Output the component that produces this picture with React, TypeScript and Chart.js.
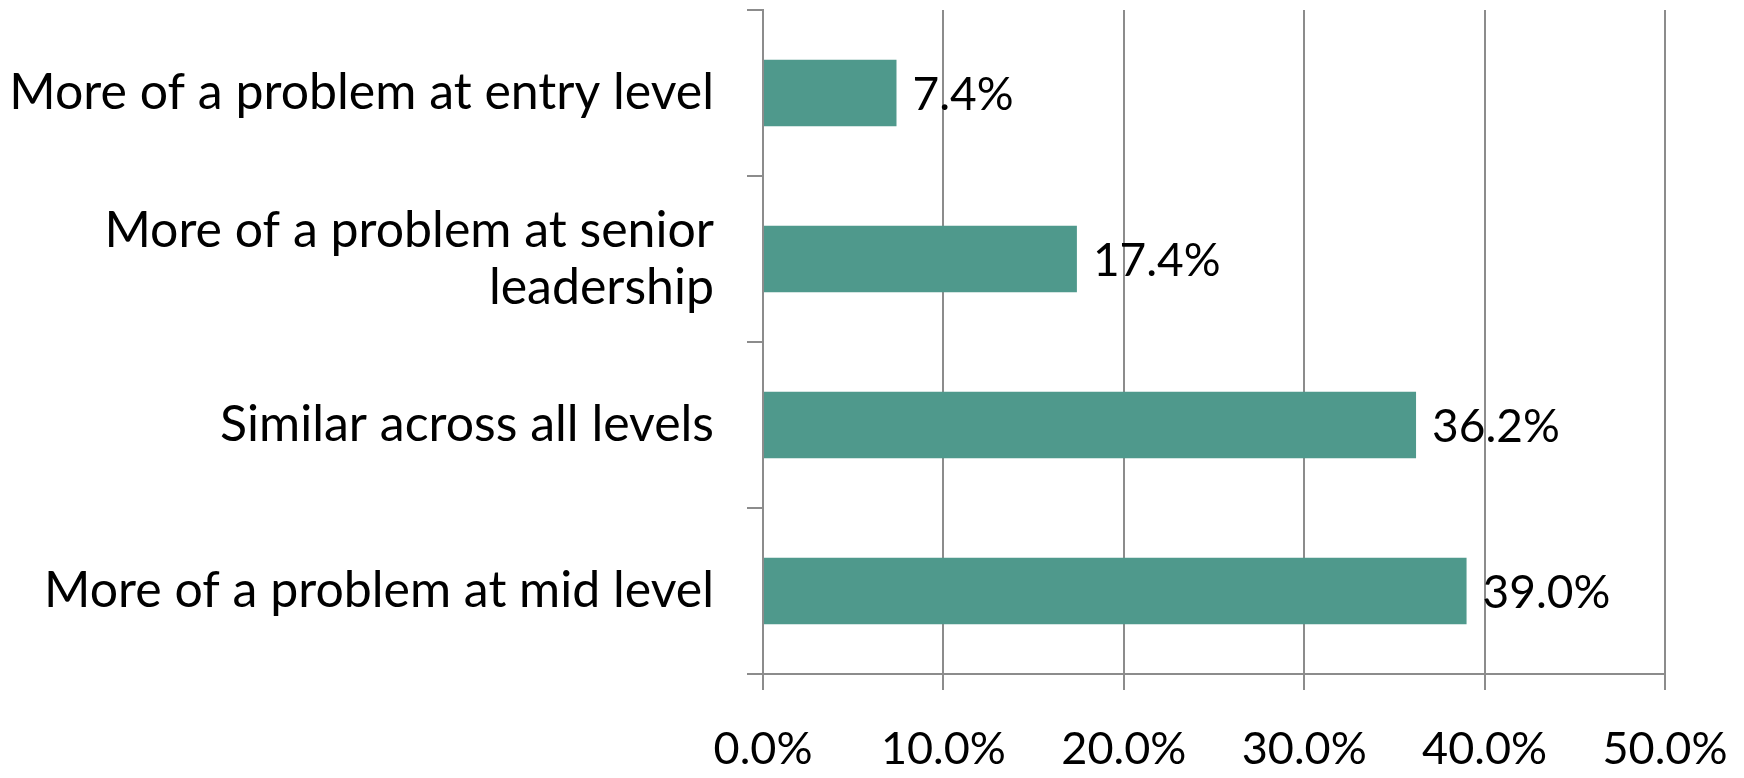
import React, { useEffect, useRef } from "react";
import { Chart, registerables } from "chart.js";

Chart.register(...registerables);

const categories: (string | string[])[] = [
  "More of a problem at entry level",
  ["More of a problem at senior", "leadership"],
  "Similar across all levels",
  "More of a problem at mid level",
];
const values: number[] = [7.4, 17.4, 36.2, 39.0];
const xTicks: number[] = [0, 10, 20, 30, 40, 50];

const FONT = "Lato, 'Open Sans', sans-serif";
const BAR_COLOR = "#4F998C";
const GRID_COLOR = "#8C8C8C";

const valueLabels = {
  id: "valueLabels",
  afterDatasetsDraw(chart: any) {
    const ctx = chart.ctx;
    const meta = chart.getDatasetMeta(0);
    ctx.save();
    ctx.font = `46px ${FONT}`;
    ctx.fillStyle = "#000";
    ctx.textAlign = "left";
    ctx.textBaseline = "middle";
    meta.data.forEach((bar: any, i: number) => {
      ctx.fillText(values[i].toFixed(1) + "%", bar.x + 16, bar.y + 2);
    });
    ctx.restore();
  },
};

const zeroPad = (s: any) => {
  s.paddingTop = 0;
  s.paddingBottom = 0;
  s.paddingLeft = 0;
  s.paddingRight = 0;
};

export default function App() {
  const ref = useRef<HTMLCanvasElement | null>(null);
  useEffect(() => {
    if (!ref.current) return;
    const chart = new Chart(ref.current, {
      type: "bar",
      data: {
        labels: categories,
        datasets: [
          {
            data: values,
            backgroundColor: BAR_COLOR,
            categoryPercentage: 1,
            barPercentage: 0.4,
          },
        ],
      },
      plugins: [valueLabels],
      options: {
        indexAxis: "y",
        animation: false,
        responsive: true,
        maintainAspectRatio: false,
        layout: { padding: { top: 10, right: 79, left: 0, bottom: 0 } },
        plugins: { legend: { display: false }, tooltip: { enabled: false } },
        scales: {
          x: {
            min: 0,
            max: 50,
            afterBuildTicks: (s: any) => {
              s.ticks = xTicks.map((v) => ({ value: v }));
            },
            afterFit: (s: any) => {
              s.height = 104;
              zeroPad(s);
            },
            ticks: {
              color: "#000",
              font: { family: FONT, size: 45 },
              padding: 32,
              maxRotation: 0,
              callback: (v: any) => Number(v).toFixed(1) + "%",
            },
            grid: {
              color: GRID_COLOR,
              lineWidth: 2,
              tickLength: 16,
              drawTicks: true,
            },
            border: { display: true, color: GRID_COLOR, width: 2 },
          },
          y: {
            afterFit: (s: any) => {
              s.width = 763;
              zeroPad(s);
            },
            ticks: {
              color: "#000",
              font: { family: FONT, size: 50, lineHeight: 1.14 },
              padding: 33,
            },
            grid: {
              color: GRID_COLOR,
              lineWidth: 2,
              tickLength: 16,
              drawOnChartArea: false,
              drawTicks: true,
            },
            border: { display: true, color: GRID_COLOR, width: 2 },
          },
        },
      },
    });
    return () => chart.destroy();
  }, []);
  return (
    <div style={{ position: "fixed", left: 0, top: 0, width: 1744, height: 778, background: "#fff" }}>
      <canvas ref={ref} />
    </div>
  );
}
